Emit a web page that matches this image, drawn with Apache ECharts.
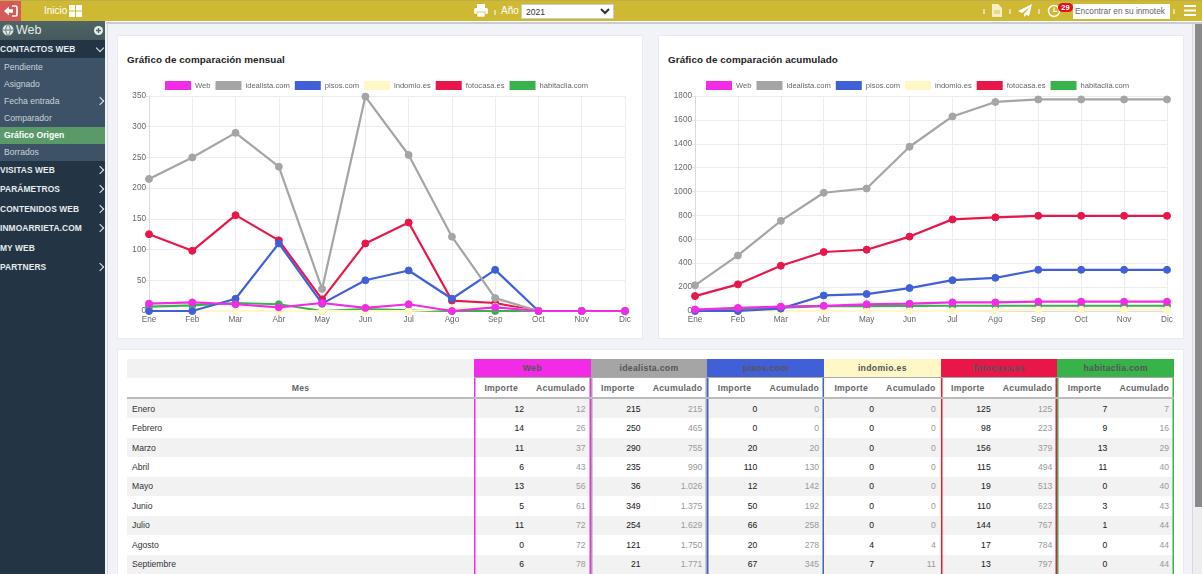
<!DOCTYPE html>
<html><head><meta charset="utf-8">
<script src="https://cdn.jsdelivr.net/npm/echarts@6/dist/echarts.min.js"></script>
<style>
*{box-sizing:border-box}
html,body{margin:0;padding:0;width:1202px;height:574px;overflow:hidden;background:#f1f3f8;font-family:"Liberation Sans",Arial,sans-serif}
.abs{position:absolute}
#top{left:0;top:0;width:1202px;height:21px;background:#d0b932;border-top:1px solid #bfae4c;color:#fff;font-size:10px}
#under{left:106px;top:21px;width:1096px;height:3px;background:#c9cbd3;border-top:1px solid #fff}
#exit{left:0;top:0;width:21px;height:21px;background:#d65b57}
#side{left:0;top:21px;width:105px;height:553px;background:#233545;color:#e8ecef;font-size:8.6px}
#webhead{left:0;top:0;width:105px;height:19px;background:linear-gradient(#4f6464,#465a5e);font-size:12.5px;color:#e6ebe8;line-height:19px;padding-left:16px}
#sub{left:0;top:37px;width:105px;height:103px;background:#3d5266}
#active{left:0;top:106px;width:105px;height:17px;background:#5a9a68}
.m{position:absolute;left:0;font-weight:bold;font-size:8.4px;line-height:14px;white-space:nowrap;letter-spacing:.1px}
.s{position:absolute;left:4px;line-height:14px;color:#c8d2d9;white-space:nowrap}
.chev{position:absolute;left:96.5px;width:6px;height:6px;border-top:1.6px solid #e8ecef;border-right:1.6px solid #e8ecef;transform:rotate(45deg)}
#frame{left:107px;top:24px;width:1085px;height:550px;background:#f1f3f8;border-left:1px solid #d5d7dd}
.card{position:absolute;background:#fff;border:1px solid #e9ebf0}
.title{position:absolute;font-size:9.85px;font-weight:bold;color:#222;white-space:nowrap;letter-spacing:.08px}
#track{left:1192px;top:21px;width:10px;height:553px;background:#eeeef0;border-left:1px solid #d8d8dc}
#thumb{left:1195px;top:21px;width:7px;height:486px;background:#8a8a8a}
table{border-collapse:separate;border-spacing:0;table-layout:fixed;position:absolute;left:127px;top:359px;width:1047px;font-size:8.6px;color:#333}
th,td{padding:0;overflow:hidden;white-space:nowrap}
tr.g th{height:19px;background:#f2f2f2;color:#555;text-align:center;font-size:8.7px;letter-spacing:.3px;border-bottom:1px solid #aaa}
tr.g th.blank{border-bottom:0}
tr.h th{height:21px;background-color:#fff;color:#666;font-size:8.7px;letter-spacing:.25px;text-align:right;border-bottom:2px solid #bbb}
tr.r td{height:19.45px;text-align:right;background-color:#fff}
tr.r.odd td{background-color:#f2f2f2}
tr.r td.mes{text-align:left;padding-left:5px;color:#333}
td.i{font-weight:normal;color:#222;-webkit-text-stroke:.06px #222;padding-right:5px}
td.a{color:#999;padding-right:5px}
th.hi{padding-right:11px}th.ha{padding-right:5px}
#sel{left:521px;top:3px;width:93px;height:15px;font:8.6px "Liberation Sans",Arial,sans-serif;color:#333;background:#fff;border:1px solid #ccc;padding:0}
#search{left:1073px;top:3px;width:97px;height:15px;background:#fff;color:#666;font-size:8.3px;line-height:15px;padding-left:2px;white-space:nowrap}
#badge{left:1058px;top:2px;width:15px;height:9px;background:#e8101a;border-radius:5px;color:#fff;font-size:7.5px;line-height:9px;text-align:center;font-weight:bold}
.sep{position:absolute;top:8px;width:2px;height:5px;background:#e4dcae}
</style></head><body>
<div id="frame" class="abs"></div>
<div id="track" class="abs"></div><div id="thumb" class="abs"></div>
<div class="card" style="left:117px;top:35px;width:526px;height:304px"></div>
<div class="card" style="left:658px;top:35px;width:526px;height:304px"></div>
<div class="card" style="left:117px;top:349px;width:1067px;height:226px"></div>
<div class="title" style="left:127px;top:54px">Gráfico de comparación mensual</div>
<div class="title" style="left:668px;top:54px">Gráfico de comparación acumulado</div>
<div id="c1" class="abs" style="left:117px;top:76px;width:526px;height:260px"></div>
<div id="c2" class="abs" style="left:658px;top:76px;width:526px;height:260px"></div>
<table id="tb"></table>

<div id="under" class="abs"></div>
<div id="top" class="abs">
  <div id="exit" class="abs"><svg width="21" height="20" viewBox="0 0 21 20"><path d="M4 10l5-4.5v2.7h4v3.6H9v2.7z" fill="#fff"/><path d="M12 5h3.5a1.5 1.5 0 0 1 1.5 1.5v7a1.5 1.5 0 0 1-1.5 1.5H12" fill="none" stroke="#fff" stroke-width="1.6"/></svg></div>
  <div class="abs" style="left:44px;top:4px;font-size:10px">Inicio</div>
  <svg class="abs" style="left:69px;top:4px" width="13" height="12"><rect width="6" height="5.5" fill="#fff"/><rect x="7" width="6" height="5.5" fill="#fff"/><rect y="6.5" width="6" height="5.5" fill="#fff"/><rect x="7" y="6.5" width="6" height="5.5" fill="#fff"/></svg>
  <svg class="abs" style="left:474px;top:3px" width="14" height="13"><rect x="3" y="0" width="8" height="4" fill="#fff"/><rect x="0" y="4" width="14" height="6" rx="1.5" fill="#fff"/><rect x="3" y="8" width="8" height="5" fill="#fff" stroke="#d0b932" stroke-width=".7"/></svg>
  <div class="sep" style="left:494px;top:9px;width:2px"></div>
  <div class="abs" style="left:501px;top:4px;font-size:10px">Año</div>
  <select id="sel" class="abs"><option>2021</option></select>
  <div class="sep" style="left:983px"></div>
  <svg class="abs" style="left:992px;top:3px" width="10" height="13"><path d="M0 0h6l4 4v9H0z" fill="#f4eecb"/><path d="M2 7h6M2 9h6" stroke="#d0b932" stroke-width=".8"/></svg>
  <div class="sep" style="left:1009px"></div>
  <svg class="abs" style="left:1018px;top:3px" width="14" height="13"><path d="M14 0L0 7l4 2 8-6-6 7v3l2.5-2.2L11 12z" fill="#fff"/></svg>
  <div class="sep" style="left:1038px"></div>
  <svg class="abs" style="left:1047px;top:3px" width="14" height="14"><circle cx="7" cy="7" r="5.5" fill="none" stroke="#fff" stroke-width="1.5"/><path d="M7 3.5V7.5H10" fill="none" stroke="#fff" stroke-width="1.2"/></svg>
  <div id="badge" class="abs">29</div>
  <div id="search" class="abs">Encontrar en su inmotek</div>
  <div class="sep" style="left:1173px"></div>
  <svg class="abs" style="left:1184px;top:4px" width="12" height="11"><rect width="12" height="2" fill="#fff"/><rect y="4.5" width="12" height="2" fill="#fff"/><rect y="9" width="12" height="2" fill="#fff"/></svg>
</div>
<div id="side" class="abs">
  <div id="sub" class="abs"></div><div id="active" class="abs"></div>
  <div id="webhead" class="abs">Web</div>
  <svg class="abs" style="left:1px;top:2px" width="14" height="14"><circle cx="7" cy="7" r="5.5" fill="#dfe6e6"/><path d="M1.5 7h11M7 1.5c-3 3-3 8 0 11M7 1.5c3 3 3 8 0 11" stroke="#4f6464" stroke-width=".8" fill="none"/></svg>
  <svg class="abs" style="left:94px;top:5px" width="9" height="9"><circle cx="4.5" cy="4.5" r="4.5" fill="#e8ecef"/><path d="M4.5 2v5M2 4.5h5" stroke="#4f6464" stroke-width="1.3"/></svg>
  <div id="menu"></div>
</div>
<script>
const months=["Ene","Feb","Mar","Abr","May","Jun","Jul","Ago","Sep","Oct","Nov","Dic"];
const monthNames=["Enero","Febrero","Marzo","Abril","Mayo","Junio","Julio","Agosto","Septiembre"];
const seriesNames=["Web","idealista.com","pisos.com","indomio.es","fotocasa.es","habitaclia.com"];
const seriesColors=["#f22ce6","#a5a5a5","#4160d8","#fff8c6","#e91649","#38b24a"];
const webM=[12,14,11,6,13,5,11,0,6,0,0,0];
const idealistaM=[215,250,290,235,36,349,254,121,21,0,0,0];
const pisosM=[0,0,20,110,12,50,66,20,67,0,0,0];
const indomioM=[0,0,0,0,0,0,0,4,7,0,0,0];
const fotocasaM=[125,98,156,115,19,110,144,17,13,0,0,0];
const habitacliaM=[7,9,13,11,0,3,1,0,0,0,0,0];
const webA=[12,26,37,43,56,61,72,72,78,78,78,78];
const idealistaA=[215,465,755,990,1026,1375,1629,1750,1771,1771,1771,1771];
const pisosA=[0,0,20,130,142,192,258,278,345,345,345,345];
const indomioA=[0,0,0,0,0,0,0,4,11,11,11,11];
const fotocasaA=[125,223,379,494,513,623,767,784,797,797,797,797];
const habitacliaA=[7,16,29,40,40,43,44,44,44,44,44,44];
const monthly=[webM,idealistaM,pisosM,indomioM,fotocasaM,habitacliaM];
const cumulative=[webA,idealistaA,pisosA,indomioA,fotocasaA,habitacliaA];
const menuMain=[["CONTACTOS WEB",21,"d"],["VISITAS WEB",142,"r"],["PARÁMETROS",161,"r"],["CONTENIDOS WEB",181,"r"],["INMOARRIETA.COM",200,"r"],["MY WEB",220,""],["PARTNERS",239,"r"]];
const menuSub=[["Pendiente",39],["Asignado",56],["Fecha entrada",73],["Comparador",90],["Gráfico Origen",107],["Borrados",124]];

function chartOption(data,yMax,yStep,gridLeft,gridRight){
  return {
    animation:false,
    textStyle:{fontFamily:'"Liberation Sans",Arial,sans-serif'},
    legend:{top:5,left:48,padding:0,itemWidth:26,itemHeight:9,itemGap:5,icon:'rect',
      textStyle:{fontSize:7.6,color:'#666',padding:[0,0,0,-1]},data:seriesNames},
    grid:{left:gridLeft,right:gridRight,top:20,bottom:25},
    xAxis:{type:'category',boundaryGap:false,data:months,
      axisLine:{lineStyle:{color:'#dcdcdc'}},axisTick:{show:true,length:3,lineStyle:{color:'#e6e6e6'}},
      axisLabel:{color:'#666',fontSize:8.2,margin:5,interval:0,hideOverlap:false},
      splitLine:{show:true,lineStyle:{color:'#ececec'}}},
    yAxis:{type:'value',min:0,max:yMax,interval:yStep,
      axisLine:{show:true,lineStyle:{color:'#dcdcdc'}},axisTick:{show:true,length:3,lineStyle:{color:'#e6e6e6'}},
      axisLabel:{color:'#666',fontSize:8.2,margin:3,formatter:v=>String(v)},
      splitLine:{show:true,lineStyle:{color:'#ececec'}}},
    series:seriesNames.map((n,i)=>({name:n,type:'line',data:data[i],z:10-i,symbol:'circle',symbolSize:7,
      showSymbol:true,clip:false,
      lineStyle:{width:2.2,color:seriesColors[i]},
      itemStyle:{color:seriesColors[i],borderColor:seriesColors[i]}}))
  };
}
echarts.init(document.getElementById('c1')).setOption(chartOption(monthly,350,50,32,18));
echarts.init(document.getElementById('c2')).setOption(chartOption(cumulative,1800,200,37,17));

const fmt=v=>String(v).replace(/\B(?=(\d{3})+$)/g,'.');
let html='<colgroup><col style="width:347px">'+seriesNames.map(()=>'<col style="width:55px"><col style="width:61.67px">').join('')+'</colgroup>';
html+='<tr class="g"><th class="blank"></th>'+seriesNames.map((n,i)=>`<th colspan="2" style="background:${seriesColors[i]}">${n}</th>`).join('')+'</tr>';
const bl=i=>`background-image:linear-gradient(to right,${seriesColors[i]} 0 1px,${seriesColors[i]}80 1px 2px,transparent 2px)`;
const br=i=>`background-image:linear-gradient(to left,${seriesColors[i]} 0 1px,${seriesColors[i]}80 1px 2px,transparent 2px)`;
html+='<tr class="h"><th style="text-align:center;color:#666">Mes</th>'+seriesNames.map((n,i)=>`<th class="hi" style="${bl(i)}">Importe</th><th class="ha" style="${br(i)}">Acumulado</th>`).join('')+'</tr>';
monthNames.forEach((m,r)=>{
  html+=`<tr class="r ${r%2===0?'odd':''}"><td class="mes">${m}</td>`+seriesNames.map((n,i)=>`<td class="i" style="${bl(i)}">${fmt(monthly[i][r])}</td><td class="a" style="${br(i)}">${fmt(cumulative[i][r])}</td>`).join('')+'</tr>';
});
document.getElementById('tb').innerHTML=html;

let mh='';
menuSub.forEach(([t,y])=>{mh+=`<div class="s" style="top:${y}px;${t==='Gráfico Origen'?'color:#fff;font-weight:bold':''}">${t}</div>`;});
mh+='<div class="chev" style="top:77px"></div>';
menuMain.forEach(([t,y,c])=>{mh+=`<div class="m" style="top:${y}px">${t}</div>`;
  if(c==='r')mh+=`<div class="chev" style="top:${y+4}px"></div>`;
  if(c==='d')mh+=`<div class="chev" style="top:${y+3}px;transform:rotate(135deg)"></div>`;});
document.getElementById('menu').innerHTML=mh;
</script>
</body></html>
